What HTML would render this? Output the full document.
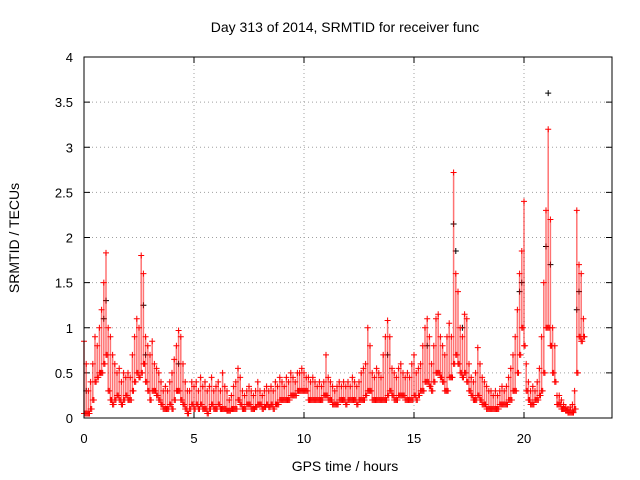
<!DOCTYPE html>
<html><head><meta charset="utf-8">
<style>
body{margin:0;background:#fff;}
svg{display:block;font-family:"Liberation Sans",sans-serif;}
</style></head>
<body>
<svg id="chart" width="640" height="480">
<text x="345" y="32" font-size="14" text-anchor="middle">Day 313 of 2014, SRMTID for receiver func</text>
<text x="345" y="471" font-size="14" text-anchor="middle">GPS time / hours</text>
<text transform="translate(19,238) rotate(-90)" font-size="14" text-anchor="middle">SRMTID / TECUs</text>
<g id="grid"></g><g id="ticks"></g><g id="marks"></g>
<rect x="84" y="57" width="528" height="361" fill="none" stroke="#000" stroke-width="1"/>
</svg>
<script>
const xTicks=[0,5,10,15,20];
const yTicks=[0,0.5,1,1.5,2,2.5,3,3.5,4];
const yTickLabels=["0","0.5","1","1.5","2","2.5","3","3.5","4"];
const times=[];for(let i=0;i<=227;i++)times.push(i/10);
const hiVals=[.85,.6,.3,.4,.6,.9,.8,1.0,1.2,1.5,1.83,1.0,.9,.7,.6,.5,.55,.4,.5,.45,.5,.45,.7,.9,1.1,1.0,1.8,1.6,.9,.8,.7,.85,.6,.55,.5,.4,.3,.35,.3,.4,.5,.65,.8,.97,.9,.6,.4,.3,.3,.4,
.35,.4,.3,.45,.35,.4,.3,.35,.45,.3,.35,.4,.3,.5,.35,.3,.2,.25,.35,.4,.55,.45,.3,.25,.3,.35,.3,.25,.3,.4,.3,.25,.3,.35,.3,.35,.3,.4,.35,.45,.4,.35,.45,.4,.5,.45,.4,.5,.5,.55,
.5,.45,.45,.4,.45,.4,.35,.4,.35,.4,.7,.45,.4,.35,.3,.35,.4,.35,.4,.35,.4,.35,.45,.4,.35,.4,.5,.55,.6,1.0,.8,.5,.45,.55,.5,.45,.7,.9,1.08,.9,.55,.5,.45,.55,.6,.5,.45,.5,.45,.6,
.7,.5,.55,.6,.8,1.0,1.1,.9,.6,.8,1.1,1.15,.9,.8,.7,.9,1.05,.9,2.72,1.6,1.4,1.0,.9,1.15,1.1,.6,.45,.4,.5,.78,.6,.45,.4,.35,.3,.3,.25,.3,.25,.3,.35,.3,.35,.45,.55,.7,.9,1.2,1.6,1.85,
2.4,.6,.4,.3,.35,.3,.4,.55,.9,1.5,2.3,3.2,2.2,1.0,.8,.25,.25,.2,.15,.12,.1,.12,.15,.3,2.3,1.7,1.6,1.1];
const loVals=[.05,.05,.05,.1,.2,.4,.45,.5,.5,.6,.7,.3,.2,.15,.2,.25,.2,.15,.2,.25,.2,.2,.3,.4,.5,.45,.5,.6,.4,.3,.2,.3,.3,.25,.2,.15,.1,.1,.1,.15,.1,.2,.3,.3,.2,.15,.1,.05,.1,.15,
.1,.15,.1,.15,.1,.1,.05,.1,.15,.1,.1,.15,.1,.1,.1,.08,.08,.1,.1,.1,.2,.15,.1,.1,.15,.15,.1,.1,.12,.15,.15,.1,.12,.15,.12,.15,.1,.15,.15,.2,.2,.2,.2,.2,.25,.25,.25,.3,.3,.3,
.3,.3,.2,.2,.2,.2,.2,.2,.2,.25,.25,.2,.2,.15,.15,.15,.2,.2,.2,.15,.2,.2,.2,.2,.15,.2,.2,.2,.25,.3,.3,.2,.2,.2,.2,.2,.2,.2,.25,.3,.25,.2,.2,.25,.25,.25,.2,.2,.2,.2,
.25,.2,.25,.3,.3,.4,.4,.35,.3,.4,.5,.5,.45,.4,.3,.3,.45,.45,.6,.7,.6,.5,.45,.5,.4,.3,.25,.2,.2,.25,.2,.15,.15,.1,.1,.1,.1,.1,.1,.15,.15,.15,.15,.2,.2,.3,.3,.5,.7,1.0,
.8,.3,.2,.15,.15,.2,.2,.25,.3,.5,1.0,1.0,.8,.5,.4,.15,.15,.1,.1,.08,.06,.06,.06,.1,.5,.9,.85,.9];
const blackTimes=[0.1,0.9,1.0,2.7,2.8,4.3,13.8,15.6,16.8,16.9,17.2,19.8,19.9,21.0,21.1,21.2,22.4,22.5];
const blackVals=[.3,1.1,1.3,1.25,.7,.6,.7,.8,2.15,1.85,1.0,1.4,1.5,1.9,3.6,1.7,1.2,1.4];
const NS='http://www.w3.org/2000/svg';
const X0=84,X1=612,Y0=418,Y1=57;
const xs=v=>X0+v/24*(X1-X0);
const ys=v=>Y0-v/4*(Y0-Y1);
function mk(tag,attrs,parent){const e=document.createElementNS(NS,tag);for(const k in attrs)e.setAttribute(k,attrs[k]);parent.appendChild(e);return e;}
const grid=document.getElementById('grid'),ticks=document.getElementById('ticks'),marks=document.getElementById('marks');
xTicks.forEach(t=>{const x=xs(t);
 if(t>0){const g=mk('line',{x1:x,x2:x,y1:Y1,y2:Y0,stroke:'#a0a0a0','stroke-dasharray':'1,3'},grid);
 
 }
 const l=mk('text',{x:x,y:443,'font-size':13,'text-anchor':'middle'},ticks);l.textContent=t;
 
 
 mk('line',{x1:x,x2:x,y1:Y0,y2:Y0-6,stroke:'#000'},ticks);
 mk('line',{x1:x,x2:x,y1:Y1,y2:Y1+6,stroke:'#000'},ticks);});
yTicks.forEach((t,i)=>{const y=ys(t);
 if(t>0&&t<4){const g=mk('line',{x1:X0,x2:X1,y1:y,y2:y,stroke:'#a0a0a0','stroke-dasharray':'1,3'},grid);
 
 }
 const l=mk('text',{x:73,y:y+5,'font-size':13,'text-anchor':'end'},ticks);l.textContent=yTickLabels[i];
 
 
 mk('line',{x1:X0,x2:X0+6,y1:y,y2:y,stroke:'#000'},ticks);
 mk('line',{x1:X1,x2:X1-6,y1:y,y2:y,stroke:'#000'},ticks);});
function plus(x,y,c,name){const p=mk('path',{d:`M${x-3} ${y}h6M${x} ${y-3}v6`,stroke:c,'stroke-width':1,fill:'none'},marks);
 
 }
blackTimes.forEach((t,i)=>plus(xs(t),ys(blackVals[i]),'#000','black-point'));
times.forEach((t,i)=>{const x=xs(t);
 const s=mk('line',{x1:x,x2:x,y1:ys(hiVals[i]),y2:ys(loVals[i]),stroke:'#f00','stroke-width':1.5,opacity:0.55},marks);
 
 
 plus(x,ys(hiVals[i]),'#f00','red-point-high');
 plus(x,ys(loVals[i]),'#f00','red-point-low');
 plus(xs(t+0.05),ys(loVals[i]),'#f00','red-point-low');});
</script>
</body></html>
